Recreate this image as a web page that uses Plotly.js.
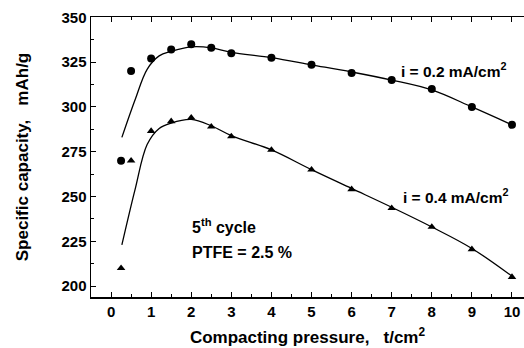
<!DOCTYPE html>
<html>
<head>
<meta charset="utf-8">
<script src="https://cdn.plot.ly/plotly-3.0.1.min.js"></script>
<style>
  html, body { margin: 0; padding: 0; background: #fff; }
  #chart { width: 524px; height: 348px; }
</style>
</head>
<body>
<div id="chart"></div>
<script>
// Measured points: compacting pressure (t/cm2) vs specific capacity (mAh/g)
const pressure = [0.25, 0.5, 1, 1.5, 2, 2.5, 3, 4, 5, 6, 7, 8, 9, 10];
const capLowCurrent = [270, 320, 327, 332, 335, 333, 330, 327.5, 323.5, 319, 315, 310, 300, 290];
const capHighCurrent = [210, 270, 286.5, 292, 294, 289, 283.5, 276, 265, 254, 243.5, 233, 220.5, 205];

// Smoothed trend lines drawn through the data
const fitPressure = [0.27, 0.6, 0.9, 1.2, 1.5, 2, 2.5, 3, 4, 5, 6, 7, 8, 9, 10];
const fitLowCurrent = [283, 304, 321, 328.5, 331, 333.5, 333, 330.5, 327.5, 323.5, 319.5, 315, 309.5, 300, 290];
const fitHighCurrent = [223, 254, 279, 288, 291, 293, 289.5, 284, 276, 265, 254.5, 244, 233, 221, 205.5];

const xTicks = [0, 1, 2, 3, 4, 5, 6, 7, 8, 9, 10];
const yTicks = [200, 225, 250, 275, 300, 325, 350];

const FONT = "Liberation Sans, Arial, sans-serif";

const traces = [
  { x: fitPressure, y: fitLowCurrent, mode: "lines", line: { color: "#000", width: 1.3, shape: "spline", smoothing: 1 }, hoverinfo: "skip" },
  { x: fitPressure, y: fitHighCurrent, mode: "lines", line: { color: "#000", width: 1.3, shape: "spline", smoothing: 1 }, hoverinfo: "skip" },
  { x: pressure, y: capLowCurrent, mode: "markers", marker: { symbol: "circle", size: 8, color: "#000" } },
  { x: pressure, y: capHighCurrent, mode: "markers", marker: { symbol: "triangle-up", size: 7.5, color: "#000" } }
];

const layout = {
  width: 524, height: 348,
  margin: { l: 91, r: 0, t: 17, b: 51 },
  paper_bgcolor: "#fff", plot_bgcolor: "#fff",
  showlegend: false,
  font: { family: FONT, color: "#000" },
  xaxis: {
    range: [-0.5, 10.3],
    tickvals: xTicks, ticktext: xTicks.map(String),
    ticks: "inside", ticklen: 5, tickwidth: 1, tickcolor: "#000",
    minor: { dtick: 0.5, tick0: 0, ticks: "inside", ticklen: 3, tickcolor: "#000" },
    showline: true, linecolor: "#000", linewidth: 1.5, mirror: "ticks",
    showgrid: false, zeroline: false,
    tickfont: { family: FONT, size: 15, color: "#000", weight: "bold" },
    title: { text: "Compacting pressure,   t/cm<sup>2</sup>", font: { family: FONT, size: 17, color: "#000", weight: "bold" }, standoff: 12 }
  },
  yaxis: {
    range: [193.9, 350.2],
    tickvals: yTicks, ticktext: yTicks.map(String),
    ticks: "inside", ticklen: 5, tickwidth: 1, tickcolor: "#000",
    minor: { dtick: 12.5, tick0: 200, ticks: "inside", ticklen: 3, tickcolor: "#000" },
    showline: true, linecolor: "#000", linewidth: 1.5, mirror: false,
    showgrid: false, zeroline: false,
    tickfont: { family: FONT, size: 15, color: "#000", weight: "bold" },
    title: { text: "Specific capacity,   mAh/g", font: { family: FONT, size: 17, color: "#000", weight: "bold" }, standoff: 28 }
  },
  annotations: [
    { x: 7.18, y: 320.5, xref: "x", yref: "y", text: "i = 0.2 mA/cm<sup>2</sup>", showarrow: false, xanchor: "left", yanchor: "middle", font: { family: FONT, size: 15.5, weight: "bold" } },
    { x: 7.23, y: 250.5, xref: "x", yref: "y", text: "i = 0.4 mA/cm<sup>2</sup>", showarrow: false, xanchor: "left", yanchor: "middle", font: { family: FONT, size: 15.5, weight: "bold" } },
    { x: 1.97, y: 233.5, xref: "x", yref: "y", text: "5<sup>th</sup> cycle", showarrow: false, xanchor: "left", yanchor: "middle", font: { family: FONT, size: 16, weight: "bold" } },
    { x: 1.97, y: 218.5, xref: "x", yref: "y", text: "PTFE = 2.5 %", showarrow: false, xanchor: "left", yanchor: "middle", font: { family: FONT, size: 16, weight: "bold" } }
  ]
};

Plotly.newPlot("chart", traces, layout, { displayModeBar: false, staticPlot: true });
</script>
</body>
</html>
